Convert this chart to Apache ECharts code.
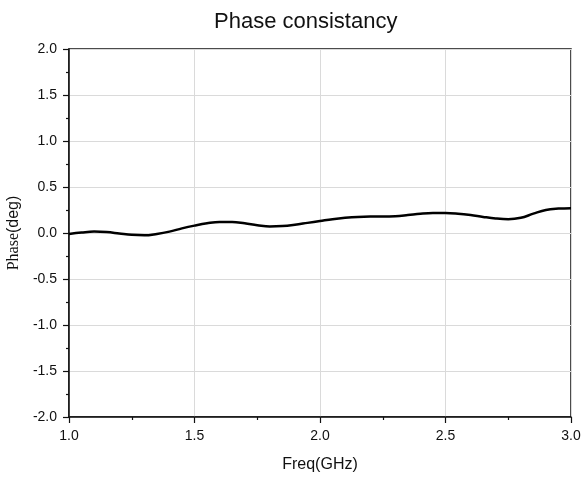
<!DOCTYPE html>
<html>
<head>
<meta charset="utf-8">
<script src="https://cdn.jsdelivr.net/npm/echarts@6/dist/echarts.min.js"></script>
<style>html,body{margin:0;padding:0;background:#fff}#c{width:584px;height:477px}</style>
</head>
<body>
<div id="c"></div>
<script>
var freq = [1.00,1.05,1.10,1.15,1.20,1.25,1.30,1.35,1.40,1.45,1.50,1.55,1.60,1.65,1.70,1.75,1.80,1.85,1.90,1.95,2.00,2.05,2.10,2.15,2.20,2.25,2.30,2.35,2.40,2.45,2.50,2.55,2.60,2.65,2.70,2.75,2.80,2.85,2.90,2.95,3.00];
var phase = [-0.01,0.005,0.015,0.01,-0.005,-0.02,-0.025,-0.01,0.015,0.05,0.08,0.105,0.12,0.12,0.105,0.085,0.07,0.075,0.09,0.11,0.13,0.15,0.165,0.175,0.178,0.178,0.182,0.195,0.21,0.218,0.218,0.21,0.195,0.175,0.158,0.15,0.165,0.21,0.25,0.265,0.27];
var titleText = 'Phase consistancy';
var xName = 'Freq(GHz)';

var data = freq.map(function(f,i){return [f, phase[i]];});
var chart = echarts.init(document.getElementById('c'));
var axisCommon = {
  axisLine:{show:true,onZero:false,lineStyle:{color:'#111',width:1.5}},
  axisTick:{show:true,inside:false,length:6,lineStyle:{color:'#111',width:1.2}},
  minorTick:{show:true,splitNumber:2,length:3,lineStyle:{color:'#111',width:1.2}},
  splitLine:{show:true,lineStyle:{color:'#dadada',width:1}},
  axisLabel:{color:'#111',fontFamily:'Liberation Sans, Arial',fontSize:14,formatter:function(v){return v.toFixed(1);}}
};
chart.setOption({
  animation:false,
  backgroundColor:'#fff',
  title:{text:titleText,left:209,top:6,textStyle:{fontFamily:'Liberation Sans, Arial',fontSize:22,fontWeight:'normal',color:'#111'}},
  grid:{left:69,right:13,top:49,bottom:60,containLabel:false,outerBoundsMode:'none',show:true,borderColor:'#111',borderWidth:1.5,backgroundColor:'transparent'},
  xAxis:Object.assign({},axisCommon,{
    type:'value',min:1,max:3,interval:0.5,
    name:xName,nameLocation:'middle',nameGap:40,
    nameTextStyle:{fontFamily:'Liberation Sans, Arial',fontSize:16,color:'#111'},
    axisLabel:Object.assign({},axisCommon.axisLabel,{margin:12})
  }),
  yAxis:Object.assign({},axisCommon,{
    type:'value',min:-2,max:2,interval:0.5,
    name:'{a|Phase}{b|(deg)}',nameLocation:'middle',nameGap:47,nameRotate:90,
    nameTextStyle:{rich:{a:{fontFamily:'Liberation Serif, Times New Roman',fontSize:16,color:'#111'},b:{fontFamily:'Liberation Sans, Arial',fontSize:16,color:'#111'}}},
    axisLabel:Object.assign({},axisCommon.axisLabel,{margin:12})
  }),
  series:[{type:'line',data:data,smooth:0.4,showSymbol:false,lineStyle:{color:'#000',width:2.5},z:5}]
});
</script>
</body>
</html>
